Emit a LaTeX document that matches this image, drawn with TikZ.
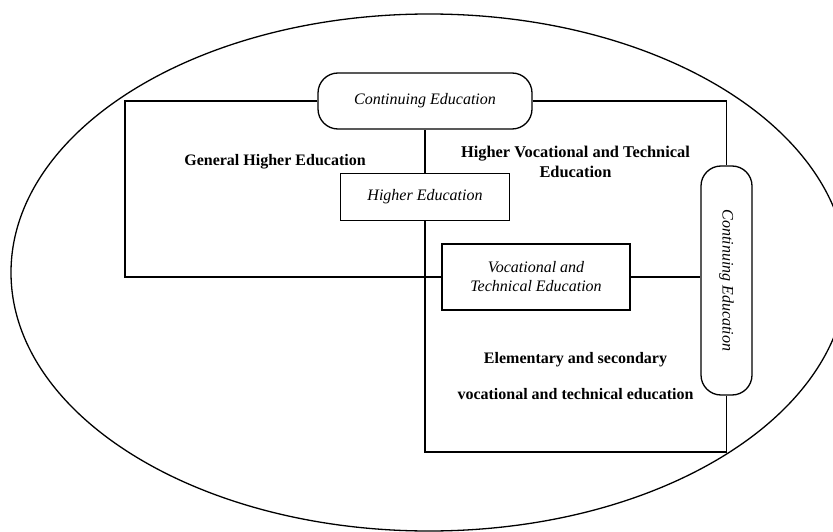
\documentclass[tikz,border=0pt]{standalone}
\usepackage{fontspec}
\setmainfont{Liberation Serif}
\usepackage{tikz}
\usetikzlibrary{positioning}
\newcommand{\bodysize}{\fontsize{16}{20}\selectfont}
\tikzstyle{frame} = [line width=1.3pt]
\tikzstyle{stage} = [draw,line width=1.3pt,inner sep=2pt,font=\bodysize\itshape]
\tikzstyle{pill} = [stage,rounded corners=20pt]
\tikzstyle{area} = [font=\bodysize\bfseries,align=center]

\begin{document}
\begin{tikzpicture}[x=1pt,y=-1pt]
\clip (0,0) rectangle (833,532);

% --- outer ellipse ---
\draw[frame] (429,272.5) ellipse [x radius=418, y radius=258.5];

% --- boxes ---
\node[pill,minimum width=214,minimum height=56] (topce) at (425,101) {Continuing Education};
\node[stage,minimum width=169,minimum height=47] (he) at (425,197) {Higher Education};
\node[stage,minimum width=188,minimum height=66,align=center] (voc) at (536,277)
  {Vocational and\\[-1pt]Technical Education};
\node[pill,minimum width=51,minimum height=229] (side) at (726.5,280.5)
  {\rotatebox{-90}{Continuing Education}};

% corners of the frame
\coordinate (tl) at (125,101);
\coordinate (bl) at (125,277);
\coordinate (bm) at (425,452);

% connections
\draw[frame] (topce.west) -- (tl) -- (bl) -- (voc.west);
\draw[frame] (topce.east) -| (side.north);
\draw[frame] (side.south) |- (bm) -- (he.south);
\draw[frame] (he.north) -- (topce.south);
\draw[line width=2.2pt] (voc.east) -- (side.west |- voc.east);

% --- labels ---
\node[area] (general) at (275,162) {General Higher Education};
\node[area,font=\fontsize{16.4}{20}\selectfont\bfseries] (highervoc) at (575.5,162)
  {Higher Vocational and Technical\\Education};
\node[area,font=\fontsize{16}{36}\selectfont\bfseries] (elem) at (575.5,376)
  {Elementary and secondary\\vocational and technical education};

\end{tikzpicture}
\end{document}
